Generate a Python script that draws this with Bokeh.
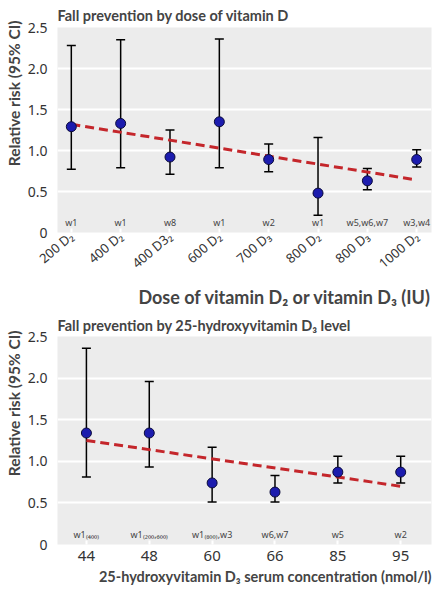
from bokeh.plotting import figure
from bokeh.models import (ColumnDataSource, FixedTicker, Range1d, Title, Whisker, TeeHead,
                          PrintfTickFormatter)
from bokeh.layouts import column
from bokeh.embed import file_html
from bokeh.resources import INLINE
from bokeh.core.properties import value

# ---------------- data ----------------
dose_labels = ["200 D\u2082", "400 D\u2082", "400 D3\u2082", "600 D\u2082",
               "700 D\u2083", "800 D\u2082", "800 D\u2083", "1000 D\u2082"]
dose_rr = [1.29, 1.33, 0.92, 1.35, 0.89, 0.48, 0.63, 0.89]
dose_lo = [0.77, 0.79, 0.71, 0.79, 0.74, 0.21, 0.52, 0.80]
dose_hi = [2.28, 2.35, 1.25, 2.36, 1.08, 1.16, 0.78, 1.01]
dose_refs = ["w1", "w1", "w8", "w1", "w2", "w1", "w5,w6,w7", "w3,w4"]
dose_trend_pos = [1, 8]
dose_trend_rr = [1.32, 0.64]

level_labels = ["44", "48", "60", "66", "85", "95"]
level_rr = [1.34, 1.34, 0.74, 0.63, 0.87, 0.87]
level_lo = [0.81, 0.93, 0.51, 0.51, 0.74, 0.74]
level_hi = [2.36, 1.96, 1.17, 0.83, 1.06, 1.06]
level_refs = ["w1\u208d\u2084\u2080\u2080\u208e", "w1\u208d\u2082\u2080\u2080,\u2086\u2080\u2080\u208e",
              "w1\u208d\u2088\u2080\u2080\u208e,w3", "w6,w7", "w5", "w2"]
level_trend_pos = [1, 6]
level_trend_rr = [1.25, 0.70]

y_ticks = [0, 0.5, 1.0, 1.5, 2.0, 2.5]
ref_label_y = 0.12

FONT = "Noto Sans"
BOLD_FONT = "Lato"
BG = "#ececec"
BLUE = "#1c1cae"
RED = "#c4262b"


def make_panel(title, xlabel, labels, rr, lo, hi, refs, tpos, trr, xr, height,
               rotate, top_border, bottom_border, title_standoff, ylab_offset,
               xlab_standoff, xlab_size):
    pos = list(range(1, len(labels) + 1))
    p = figure(width=436, height=height, output_backend="svg", toolbar_location=None,
               x_range=Range1d(*xr), y_range=Range1d(0, 2.5),
               min_border_left=57, min_border_right=5, min_border_top=top_border,
               min_border_bottom=bottom_border)
    p.title.text = title
    p.title.align = "left"
    p.title.text_font = BOLD_FONT
    p.title.text_font_size = "14.5px"
    p.title.text_font_style = "bold"
    p.title.standoff = title_standoff
    p.title.offset = 0
    p.background_fill_color = BG
    p.outline_line_color = None
    p.xgrid.grid_line_color = None
    p.ygrid.grid_line_color = "white"
    p.ygrid.grid_line_width = 2
    p.ygrid.ticker = FixedTicker(ticks=y_ticks)

    p.yaxis.ticker = FixedTicker(ticks=y_ticks)
    p.yaxis.formatter = PrintfTickFormatter(format="%.1f")
    p.yaxis.major_label_overrides = {0: "0"}
    p.yaxis.axis_line_color = None
    p.yaxis.major_tick_line_color = None
    p.yaxis.minor_tick_line_color = None
    p.yaxis.major_label_standoff = 4
    p.yaxis.major_label_text_font = FONT
    p.yaxis.major_label_text_font_size = "14px"
    p.yaxis.major_label_text_color = "#333333"

    p.xaxis.ticker = FixedTicker(ticks=pos)
    p.xaxis.major_label_overrides = {i: l for i, l in zip(pos, labels)}
    p.xaxis.axis_line_color = None
    p.xaxis.major_tick_in = 4
    p.xaxis.major_tick_out = 0
    p.xaxis.major_tick_line_color = "white"
    p.xaxis.major_tick_line_width = 2
    p.xaxis.minor_tick_line_color = None
    p.xaxis.major_label_text_font = FONT
    p.xaxis.major_label_text_color = "#333333"
    if rotate:
        p.xaxis.major_label_orientation = 0.7
        p.xaxis.major_label_text_font_size = "13px"
        p.xaxis.major_label_standoff = 2
    else:
        p.xaxis.major_label_text_font_size = "15px"
        p.xaxis.major_label_standoff = 6

    ylab = Title(text="Relative risk (95% CI)", align="right", offset=ylab_offset,
                 vertical_align="middle", text_font=BOLD_FONT, text_font_size="15.5px",
                 text_font_style="bold", standoff=2)
    p.add_layout(ylab, "left")
    xlab = Title(text=xlabel, align="right", offset=0, vertical_align="middle",
                 text_font=BOLD_FONT, text_font_size=xlab_size, text_font_style="bold",
                 standoff=xlab_standoff)
    p.add_layout(xlab, "below")

    src = ColumnDataSource(dict(x=pos, rr=rr, lo=lo, hi=hi, refs=refs,
                                ry=[ref_label_y] * len(pos)))
    p.add_layout(Whisker(source=src, base="x", upper="hi", lower="lo",
                         line_color="black", line_width=1.5,
                         upper_head=TeeHead(size=9, line_width=1.5, line_color="black"),
                         lower_head=TeeHead(size=9, line_width=1.5, line_color="black")))
    p.line(tpos, trr, line_color=RED, line_width=3, line_dash="9 5")
    p.scatter("x", "rr", source=src, size=10, fill_color=BLUE,
              line_color="#0b0b3a", line_width=1)
    p.text("x", "ry", text="refs", source=src, text_font=value(FONT),
           text_font_size="9px", text_color="#444444", text_align="center",
           text_baseline="middle")
    return p


top = make_panel("Fall prevention by dose of vitamin D",
                 "Dose of vitamin D\u2082 or vitamin D\u2083 (IU)",
                 dose_labels, dose_rr, dose_lo, dose_hi, dose_refs,
                 dose_trend_pos, dose_trend_rr, (0.72, 8.30), 311, True, 27, 76,
                 8, -7, 6, "18px")
bottom = make_panel("Fall prevention by 25-hydroxyvitamin D\u2083 level",
                    "25-hydroxyvitamin D\u2083 serum concentration (nmol/l)",
                    level_labels, level_rr, level_lo, level_hi, level_refs,
                    level_trend_pos, level_trend_rr, (0.54, 6.49), 285, False, 23, 52,
                    6, -6, 6, "14.5px")

layout = column(top, bottom, spacing=0)
open("out.html", "w").write(file_html(layout, INLINE))
